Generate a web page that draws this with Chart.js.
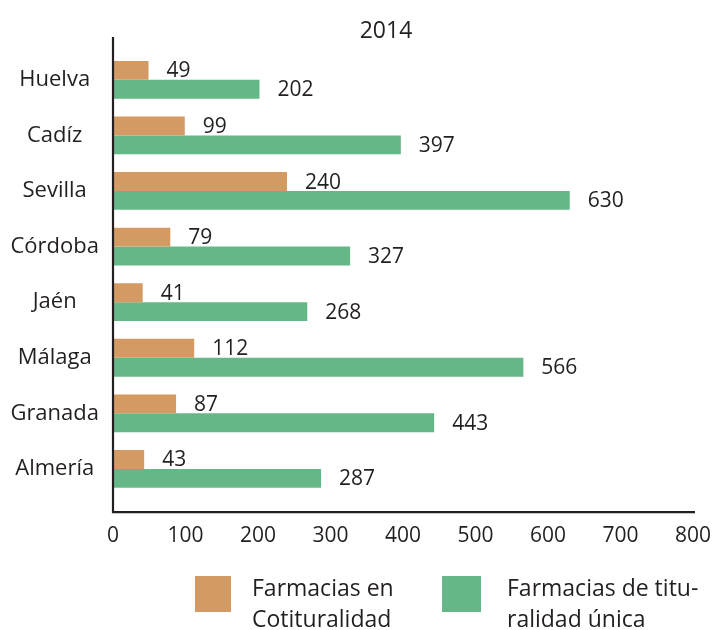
<!DOCTYPE html>
<html>
<head>
<meta charset="utf-8">
<script src="https://cdn.jsdelivr.net/npm/chart.js@4"></script>
<style>
  html, body { margin: 0; padding: 0; background: #fff; }
  #wrap { position: relative; width: 714px; height: 630px; }
  canvas { position: absolute; left: 0; top: 0; }
  .lg-box { position: absolute; top: 576px; height: 36px; }
  .lg-text { position: absolute; font-family: "Open Sans", sans-serif; font-size: 23px; line-height: 31px; color: #231F20; white-space: nowrap; }
</style>
</head>
<body>
<div id="wrap">
  <canvas id="c" width="714" height="630"></canvas>
  <div class="lg-box" style="left:195px;width:36px;background:#D49A63;"></div>
  <div class="lg-text" style="left:252px;top:572px;">Farmacias en<br>Cotituralidad</div>
  <div class="lg-box" style="left:442px;width:39px;background:#66B787;"></div>
  <div class="lg-text" style="left:507px;top:572px;">Farmacias de titu-<br>ralidad única</div>
</div>
<script>
const titleText = '2014';
const categories = ['Huelva', 'Cadíz', 'Sevilla', 'Córdoba', 'Jaén', 'Málaga', 'Granada', 'Almería'];
const cotituralidad = [49, 99, 240, 79, 41, 112, 87, 43];
const titularidadUnica = [202, 397, 630, 327, 268, 566, 443, 287];
const seriesNames = ['Farmacias en Cotituralidad', 'Farmacias de titularidad única'];
const xTicks = [0, 100, 200, 300, 400, 500, 600, 700, 800];

const TEXT = '#231F20';
const FONT = '"Open Sans", sans-serif';

const valueLabels = {
  id: 'valueLabels',
  afterDatasetsDraw(chart) {
    const ctx = chart.ctx;
    ctx.save();
    ctx.font = '21px ' + FONT;
    ctx.fillStyle = TEXT;
    ctx.textAlign = 'left';
    ctx.textBaseline = 'middle';
    chart.data.datasets.forEach((ds, di) => {
      chart.getDatasetMeta(di).data.forEach((bar, i) => {
        ctx.fillText(String(ds.data[i]), bar.x + 18, bar.y + 1);
      });
    });
    ctx.restore();
  }
};

const axisLines = {
  id: 'axisLines',
  afterDatasetsDraw(chart) {
    const ctx = chart.ctx;
    const xs = chart.scales.x;
    const a = chart.chartArea;
    const x0 = xs.getPixelForValue(0);
    const xEnd = xs.getPixelForValue(xTicks[xTicks.length - 1]);
    const yTop = a.top - 15;
    const yBot = a.bottom + 15.5;
    ctx.save();
    ctx.strokeStyle = TEXT;
    ctx.lineWidth = 2.2;
    ctx.beginPath();
    ctx.moveTo(x0, yTop);
    ctx.lineTo(x0, yBot);
    ctx.lineTo(xEnd + 2, yBot);
    ctx.stroke();
    ctx.restore();
  }
};

const chartTitle = {
  id: 'chartTitle',
  afterDraw(chart) {
    const ctx = chart.ctx;
    const a = chart.chartArea;
    ctx.save();
    ctx.font = '23px ' + FONT;
    ctx.fillStyle = TEXT;
    ctx.textAlign = 'center';
    ctx.textBaseline = 'alphabetic';
    ctx.fillText(titleText, (a.left + a.right) / 2 - 17, 37.5);
    ctx.restore();
  }
};

new Chart(document.getElementById('c'), {
  type: 'bar',
  data: {
    labels: categories,
    datasets: [
      { label: seriesNames[0], data: cotituralidad, backgroundColor: '#D49A63', borderWidth: 0 },
      { label: seriesNames[1], data: titularidadUnica, backgroundColor: '#66B787', borderWidth: 0 }
    ]
  },
  options: {
    indexAxis: 'y',
    responsive: false,
    animation: false,
    devicePixelRatio: 1,
    layout: { padding: { left: 0, right: 21, top: 52, bottom: 0 } },
    datasets: { bar: { barPercentage: 1, categoryPercentage: 0.68 } },
    plugins: {
      legend: { display: false },
      tooltip: { enabled: false },
      title: { display: false, text: titleText }
    },
    scales: {
      x: {
        type: 'linear',
        min: 0,
        max: 800,
        afterBuildTicks(scale) { scale.ticks = xTicks.map(v => ({ value: v })); },
        afterFit(scale) { scale.height = 133.3; scale.paddingLeft = 0; scale.paddingRight = 0; },
        grid: { display: false, drawTicks: false, tickLength: 0 },
        border: { display: false },
        ticks: { color: TEXT, font: { family: FONT, size: 21 }, padding: 27, maxRotation: 0 }
      },
      y: {
        afterFit(scale) { scale.width = 113; },
        grid: { display: false, drawTicks: false, tickLength: 0 },
        border: { display: false },
        ticks: { color: TEXT, font: { family: FONT, size: 22 }, padding: 14, crossAlign: 'center' }
      }
    }
  },
  plugins: [valueLabels, axisLines, chartTitle]
});
</script>
</body>
</html>
